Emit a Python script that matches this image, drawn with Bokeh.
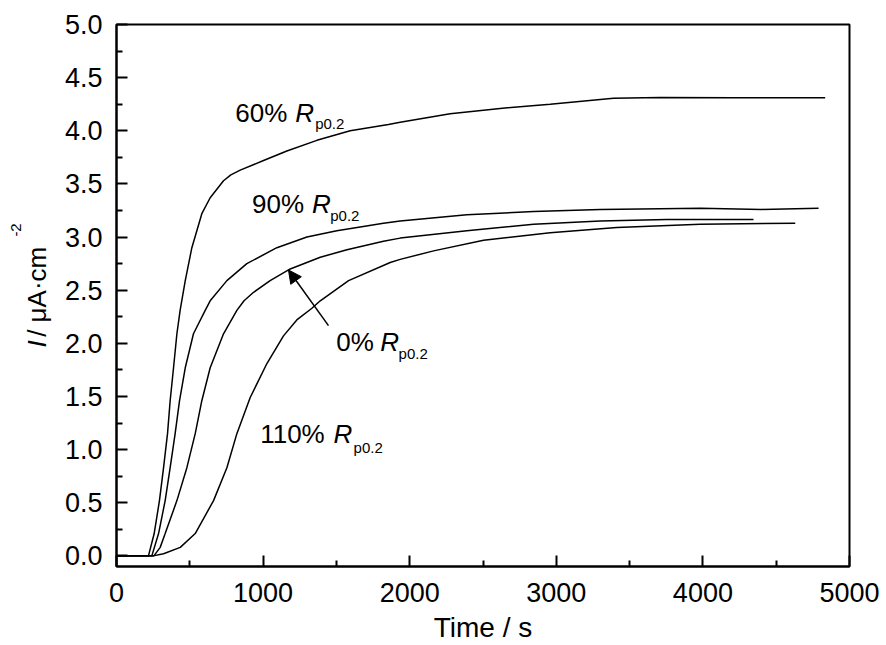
import numpy as np
from bokeh.plotting import figure
from bokeh.models import Label, Arrow, NormalHead, FixedTicker, PrintfTickFormatter, Range1d
from bokeh.embed import file_html
from bokeh.resources import INLINE

# ---------------- data ----------------
t_60 = [0, 218, 257, 293, 321, 348, 366, 389, 412, 434, 469, 514, 582, 639, 730, 780, 844,
        1003, 1162, 1367, 1594, 1855, 1935, 2276, 2617, 2958, 3390, 3709, 4209, 4834]
i_60 = [0.0, 0.0, 0.21, 0.52, 0.83, 1.15, 1.46, 1.77, 2.09, 2.31, 2.59, 2.90, 3.22, 3.37, 3.53, 3.585, 3.63,
        3.72, 3.81, 3.91, 4.00, 4.06, 4.08, 4.16, 4.21, 4.25, 4.305, 4.314, 4.31, 4.31]

t_90 = [0, 241, 287, 332, 366, 400, 430, 469, 525, 605, 639, 753, 889, 1094, 1299, 1503,
        1821, 1935, 2390, 2845, 3300, 3982, 4400, 4789]
i_90 = [0.0, 0.0, 0.21, 0.52, 0.83, 1.15, 1.46, 1.77, 2.09, 2.31, 2.40, 2.59, 2.75, 2.90, 3.00, 3.06,
        3.13, 3.15, 3.21, 3.24, 3.26, 3.27, 3.26, 3.27]

t_0 = [0, 255, 298, 332, 412, 480, 537, 582, 639, 730, 821, 870, 935, 1048, 1185, 1390,
       1572, 1821, 1935, 2390, 2845, 3300, 3754, 4345]
i_0 = [0.0, 0.0, 0.08, 0.21, 0.52, 0.83, 1.15, 1.46, 1.77, 2.09, 2.31, 2.40, 2.48, 2.59, 2.70, 2.81,
       2.88, 2.96, 2.99, 3.06, 3.12, 3.15, 3.164, 3.164]

t_110 = [0, 250, 321, 435, 537, 662, 753, 821, 912, 1026, 1139, 1230, 1333, 1390, 1583, 1867, 1935,
         2163, 2504, 2958, 3413, 3982, 4630]
i_110 = [0.0, 0.0, 0.02, 0.08, 0.21, 0.52, 0.83, 1.15, 1.49, 1.81, 2.07, 2.22, 2.33, 2.40, 2.59, 2.76, 2.79,
         2.87, 2.97, 3.04, 3.09, 3.12, 3.13]

x_major = [0, 1000, 2000, 3000, 4000, 5000]
x_minor = [500, 1500, 2500, 3500, 4500]
y_major = [0.0, 0.5, 1.0, 1.5, 2.0, 2.5, 3.0, 3.5, 4.0, 4.5, 5.0]
y_minor = [0.25, 0.75, 1.25, 1.75, 2.25, 2.75, 3.25, 3.75, 4.25, 4.75]

# curve labels: (prefix, baseline x, baseline y, R x, subscript x, subscript baseline y)
curve_labels = [
    ("60%", 810, 4.167, 1219, 1355, 4.064),
    ("90%", 924, 3.311, 1333, 1458, 3.201),
    ("0%", 1499, 2.009, 1799, 1924, 1.900),
    ("110%", 980, 1.148, 1480, 1617, 1.022),
]
arrow_start = (1446, 2.167)
arrow_tip_x = 1173

x_title = "Time / s"
# y axis title pieces (anchor positions, data units, outside the frame)
y_title_italic = ("I", -543, 1.96)
y_title_main = ("/ μA·cm", -543, 2.061)
y_title_sup = ("-2", -683, 3.004)

FONT = "Liberation Sans"

p = figure(width=886, height=645, output_backend="svg", toolbar_location=None,
           x_range=Range1d(0, 5000), y_range=Range1d(-0.1, 5.0),
           min_border_left=116, min_border_right=37, min_border_top=24, min_border_bottom=79)
p.background_fill_color = "white"
p.border_fill_color = "white"
p.grid.visible = False
p.outline_line_color = "black"
p.outline_line_width = 2
p.outline_line_alpha = 1.0

p.xaxis.ticker = FixedTicker(ticks=x_major, minor_ticks=x_minor)
p.yaxis.ticker = FixedTicker(ticks=y_major, minor_ticks=y_minor)
p.yaxis.formatter = PrintfTickFormatter(format="%.1f")
for ax in (p.xaxis[0], p.yaxis[0]):
    ax.axis_line_color = "black"
    ax.axis_line_width = 2
    ax.major_tick_line_color = "black"
    ax.major_tick_line_width = 2
    ax.minor_tick_line_color = "black"
    ax.minor_tick_line_width = 2
    ax.major_tick_in = 11
    ax.major_tick_out = 0
    ax.minor_tick_in = 6
    ax.minor_tick_out = 0
    ax.major_label_text_font = FONT
    ax.major_label_text_font_size = "27px"
    ax.major_label_text_color = "black"
p.xaxis.major_label_standoff = 16
p.yaxis.major_label_standoff = 14

p.xaxis.axis_label = x_title
p.xaxis.axis_label_text_font = FONT
p.xaxis.axis_label_text_font_size = "28px"
p.xaxis.axis_label_text_font_style = "normal"
p.xaxis.axis_label_text_color = "black"
p.xaxis.axis_label_standoff = 7

for tx, iy in ((t_60, i_60), (t_90, i_90), (t_0, i_0), (t_110, i_110)):
    p.line(tx, iy, line_color="black", line_width=1.5)

# arrow pointing to the 0% curve
tip_y = float(np.interp(arrow_tip_x, t_0, i_0))
p.add_layout(Arrow(end=NormalHead(size=13, fill_color="black", line_color="black", line_width=1),
                   x_start=arrow_start[0], y_start=arrow_start[1],
                   x_end=arrow_tip_x, y_end=tip_y,
                   line_color="black", line_width=1.5))

for prefix, px, py, rx, sx, sy in curve_labels:
    p.add_layout(Label(x=px, y=py, text=prefix, text_font=FONT, text_font_size="26px",
                       text_align="left", text_baseline="alphabetic", text_color="black"))
    p.add_layout(Label(x=rx, y=py, text="R", text_font=FONT, text_font_size="26px",
                       text_font_style="italic",
                       text_align="left", text_baseline="alphabetic", text_color="black"))
    p.add_layout(Label(x=sx, y=sy, text="p0.2", text_font=FONT, text_font_size="15px",
                       text_align="left", text_baseline="alphabetic", text_color="black"))

# y axis title (rotated, composed of pieces); side panels keep them from being clipped.
ang = np.pi / 2
p.add_layout(Label(x=y_title_italic[1], y=y_title_italic[2], text=y_title_italic[0], angle=ang,
                   text_font=FONT, text_font_size="26px", text_font_style="italic",
                   text_align="left", text_baseline="alphabetic", text_color="black"), "left")
p.add_layout(Label(x=y_title_main[1], y=y_title_main[2], text=y_title_main[0], angle=ang,
                   text_font=FONT, text_font_size="26px",
                   text_align="left", text_baseline="alphabetic", text_color="black"), "left")
# the small superscript goes in the (roomy) right panel; its position is still in data units
p.add_layout(Label(x=y_title_sup[1], y=y_title_sup[2], text=y_title_sup[0], angle=ang,
                   text_font=FONT, text_font_size="15px",
                   text_align="left", text_baseline="alphabetic", text_color="black"), "right")

open("out.html", "w").write(file_html(p, INLINE))
